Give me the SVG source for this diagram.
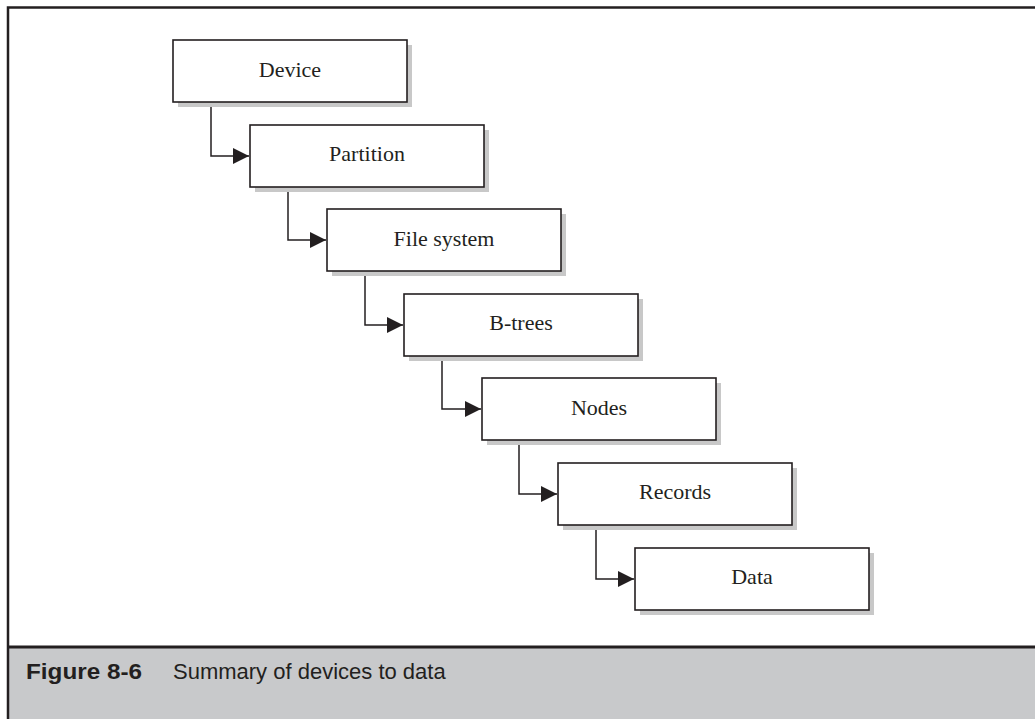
<svg xmlns="http://www.w3.org/2000/svg" width="1035" height="719" viewBox="0 0 1035 719">
<style>
.shadow{fill:#c8c8c8}
.box{fill:#fff;stroke:#231f20;stroke-width:1.6}
.lbl{font-family:"Liberation Serif",serif;font-size:22px;fill:#231f20;text-anchor:middle}
.conn{fill:none;stroke:#231f20;stroke-width:1.5}
.cap{font-family:"Liberation Sans",Arial,sans-serif;font-size:22px;fill:#231f20}
</style>
<defs>
<marker id="arr" markerWidth="16" markerHeight="16" refX="16" refY="8" orient="auto" markerUnits="userSpaceOnUse">
<path d="M0,0 L16,8 L0,16 Z" fill="#231f20"/>
</marker>
</defs>
<rect x="0" y="0" width="1035" height="719" fill="#fff"/>
<rect x="8" y="647" width="1027" height="72" fill="#c8c9cb"/>
<path d="M8,719 V7.5 H1035" fill="none" stroke="#231f20" stroke-width="2.5"/>
<line x1="8" y1="647" x2="1035" y2="647" stroke="#231f20" stroke-width="3"/>
<g id="connectors">
<path class="conn" d="M211,102 V156 H249" marker-end="url(#arr)"/>
<path class="conn" d="M288,187 V240 H326" marker-end="url(#arr)"/>
<path class="conn" d="M365,271 V325 H403" marker-end="url(#arr)"/>
<path class="conn" d="M442,355 V409 H481" marker-end="url(#arr)"/>
<path class="conn" d="M519,440 V494 H557" marker-end="url(#arr)"/>
<path class="conn" d="M596,524 V579 H634" marker-end="url(#arr)"/>
</g>
<g id="device">
<rect class="shadow" x="178" y="45" width="234" height="62"/>
<rect class="box" x="173" y="40" width="234" height="62"/>
<text class="lbl" x="290" y="77">Device</text>
</g>
<g id="partition">
<rect class="shadow" x="255" y="130" width="234" height="62"/>
<rect class="box" x="250" y="125" width="234" height="62"/>
<text class="lbl" x="367" y="161">Partition</text>
</g>
<g id="filesystem">
<rect class="shadow" x="332" y="214" width="234" height="62"/>
<rect class="box" x="327" y="209" width="234" height="62"/>
<text class="lbl" x="444" y="246">File system</text>
</g>
<g id="btrees">
<rect class="shadow" x="409" y="299" width="234" height="62"/>
<rect class="box" x="404" y="294" width="234" height="62"/>
<text class="lbl" x="521" y="330">B-trees</text>
</g>
<g id="nodes">
<rect class="shadow" x="487" y="383" width="234" height="62"/>
<rect class="box" x="482" y="378" width="234" height="62"/>
<text class="lbl" x="599" y="415">Nodes</text>
</g>
<g id="records">
<rect class="shadow" x="563" y="468" width="234" height="62"/>
<rect class="box" x="558" y="463" width="234" height="62"/>
<text class="lbl" x="675" y="499">Records</text>
</g>
<g id="data">
<rect class="shadow" x="640" y="553" width="234" height="62"/>
<rect class="box" x="635" y="548" width="234" height="62"/>
<text class="lbl" x="752" y="584">Data</text>
</g>
<g id="caption">
<text class="cap" x="26" y="679" font-weight="bold" textLength="116" lengthAdjust="spacingAndGlyphs">Figure 8-6</text>
<text class="cap" x="173" y="679">Summary of devices to data</text>
</g>
</svg>
